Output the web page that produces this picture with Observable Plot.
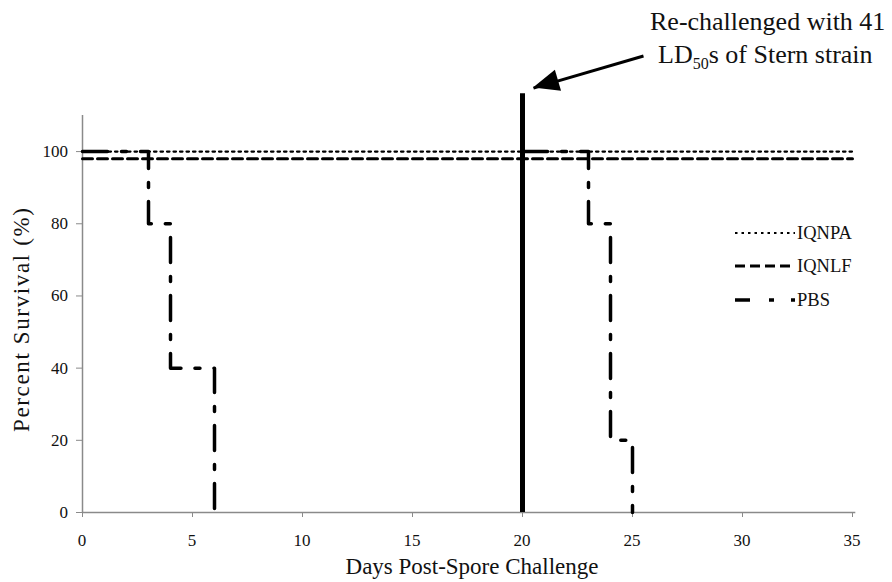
<!DOCTYPE html>
<html><head><meta charset="utf-8">
<script src="https://cdn.jsdelivr.net/npm/d3@7"></script>
<script src="https://cdn.jsdelivr.net/npm/@observablehq/plot@0.6"></script>
<style>body{margin:0;background:#fff}</style>
</head><body><div id="chart"></div>
<script>
// ---- data ----
const seriesNames = ["IQNPA", "IQNLF", "PBS"];
const iqnpaDays = [0, 35];
const iqnpaSurvival = [100, 100];
const iqnlfDays = [0, 35];
const iqnlfSurvival = [98, 98];
const pbsDays1 = [0, 3, 4, 6];
const pbsSurvival1 = [100, 80, 40, 0];
const pbsDays2 = [20, 23, 24, 25];
const pbsSurvival2 = [100, 80, 20, 0];
const rechallengeDay = 20;
const rechallengeTop = 116;
const xTicks = [0, 5, 10, 15, 20, 25, 30, 35];
const yTicks = [0, 20, 40, 60, 80, 100];
const xLabel = "Days Post-Spore Challenge";
const yLabel = "Percent Survival (%)";
const noteLine1 = "Re-challenged with 41";
const noteLine2 = ["LD", "50", "s of Stern strain"];
const arrowFrom = [25.5, 126.5];
const arrowTo = [20.5, 117.6];

const toRows = (xs, ys) => xs.map((d, i) => ({day: d, surv: ys[i]}));
const font = '"Liberation Serif", "Times New Roman", serif';

const plot = Plot.plot({
  width: 892, height: 582,
  marginLeft: 82, marginRight: 40, marginTop: 115, marginBottom: 70,
  style: {fontFamily: font, color: "#111", background: "#fff", overflow: "visible"},
  x: {domain: [0, 35], label: null},
  y: {domain: [0, 110], label: null},
  marks: [
    Plot.ruleY([0], {x1: 0, x2: 35.15, stroke: "#8a8a8a", strokeWidth: 1.5}),
    Plot.ruleX([0], {y1: 0, y2: 110, stroke: "#8a8a8a", strokeWidth: 1.5}),
    Plot.axisX({ticks: xTicks, tickSize: 5, stroke: "#8a8a8a", label: null, tickFormat: () => ""}),
    Plot.axisY({ticks: yTicks, tickSize: 6, stroke: "#8a8a8a", label: null, tickFormat: () => ""}),
    Plot.line(toRows(iqnpaDays, iqnpaSurvival), {x: "day", y: "surv", stroke: "#000", strokeWidth: 2.2, strokeDasharray: "2.5,4"}),
    Plot.line(toRows(iqnlfDays, iqnlfSurvival), {x: "day", y: "surv", stroke: "#000", strokeWidth: 3, strokeDasharray: "10,5"}),
    Plot.line(toRows(pbsDays1, pbsSurvival1), {x: "day", y: "surv", curve: "step-after", stroke: "#000", strokeWidth: 3.5, strokeDasharray: "25,14,5,14"}),
    Plot.line(toRows(pbsDays2, pbsSurvival2), {x: "day", y: "surv", curve: "step-after", stroke: "#000", strokeWidth: 3.5, strokeDasharray: "25,14,5,14"}),
    Plot.ruleX([rechallengeDay], {y1: 0, y2: rechallengeTop, stroke: "#000", strokeWidth: 5}),
    Plot.link([{x1: arrowFrom[0], y1: arrowFrom[1], x2: arrowTo[0], y2: arrowTo[1]}], {x1: "x1", y1: "y1", x2: "x2", y2: "y2", stroke: "#000", strokeWidth: 3})
  ]
});

const svg = d3.select(plot);
const sx = plot.scale("x").apply, sy = plot.scale("y").apply;

// tick labels (positioned through Plot's scales)
const tl = svg.append("g").attr("font-family", font).attr("fill", "#111");
xTicks.forEach(t => {
  tl.append("text").attr("x", sx(t)).attr("y", sy(0) + 34).attr("text-anchor", "middle")
    .style("font-size", "17px").text(String(t));
});
yTicks.forEach(t => {
  tl.append("text").attr("x", sx(0) - 14).attr("y", sy(t)).attr("dy", "0.35em").attr("text-anchor", "end")
    .style("font-size", "17px").text(String(t));
});

// filled arrow head
{
  const tx = sx(arrowTo[0]), ty = sy(arrowTo[1]);
  const fx = sx(arrowFrom[0]), fy = sy(arrowFrom[1]);
  const ang = Math.atan2(ty - fy, tx - fx);
  const L = 26, W = 11;
  const bx = tx - L * Math.cos(ang), by = ty - L * Math.sin(ang);
  const px = -Math.sin(ang) * W, py = Math.cos(ang) * W;
  svg.append("polygon")
    .attr("points", [[tx, ty], [bx + px, by + py], [bx - px, by - py]].map(p => p.join(",")).join(" "))
    .attr("fill", "#000");
}

// annotation text
const note = svg.append("g").attr("font-family", font).attr("fill", "#111").attr("text-anchor", "start");
note.append("text").attr("x", 650).attr("y", 30).style("font-size", "26px").text(noteLine1);
const t2 = note.append("text").attr("x", 658).attr("y", 63).style("font-size", "26px");
t2.append("tspan").text(noteLine2[0]);
t2.append("tspan").style("font-size", "16px").attr("dy", 6).text(noteLine2[1]);
t2.append("tspan").attr("dy", -6).text(noteLine2[2]);

// axis titles
svg.append("text").attr("x", 472).attr("y", 574).attr("text-anchor", "middle")
  .attr("font-family", font).style("font-size", "23px").attr("fill", "#111").text(xLabel);
svg.append("text").attr("transform", "translate(29,320) rotate(-90)").attr("text-anchor", "middle")
  .attr("font-family", font).style("font-size", "23px").attr("fill", "#111")
  .attr("textLength", 224).attr("lengthAdjust", "spacing").text(yLabel);

// legend
const legendDash = ["2.5,4", "10,5", "15,19,5,17,5"];
const legendWidth = [2.2, 3, 3.5];
const legendY = [233, 266, 300];
const lg = svg.append("g").attr("text-anchor", "start");
seriesNames.forEach((name, i) => {
  lg.append("line").attr("x1", 735).attr("x2", 795).attr("y1", legendY[i]).attr("y2", legendY[i])
    .attr("stroke", "#000").attr("stroke-width", legendWidth[i]).attr("stroke-dasharray", legendDash[i]);
  lg.append("text").attr("x", 797).attr("y", legendY[i]).attr("dy", "0.35em")
    .attr("font-family", font).style("font-size", "18.5px").attr("fill", "#111").text(name);
});

document.getElementById("chart").appendChild(plot);
</script>
</body></html>
